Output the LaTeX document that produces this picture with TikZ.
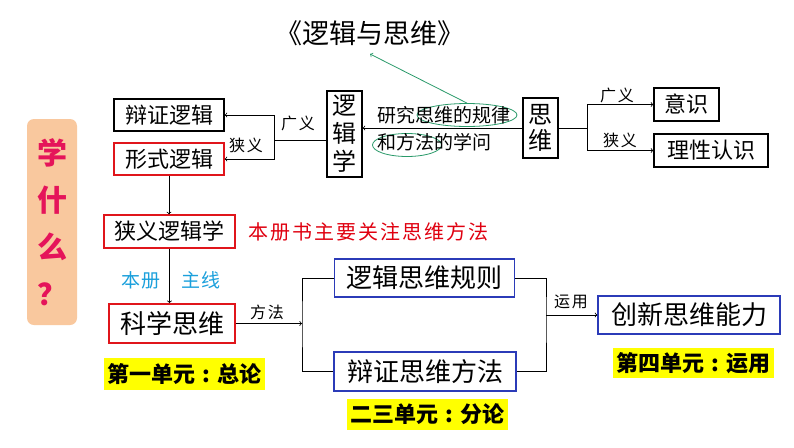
\documentclass[tikz,border=0pt]{standalone}
\usepackage{fontspec}
\setmainfont{Noto Sans CJK SC}
\newfontfamily\spaced{Noto Sans CJK SC}[LetterSpace=10]
\usetikzlibrary{shapes.geometric}

\definecolor{boxred}{HTML}{E0151B}
\definecolor{boxblue}{HTML}{2B3BB8}
\definecolor{notered}{HTML}{E00010}
\definecolor{linecyan}{HTML}{1BA0DC}
\definecolor{ovalgreen}{HTML}{2A9A6A}
\definecolor{peach}{HTML}{F9C89E}
\definecolor{askred}{HTML}{E5145A}
\definecolor{unityellow}{HTML}{FFFF00}

\newcommand{\unitcolon}{\makebox[1em]{:}}

\tikzset{
  box/.style={draw, line width=1.4pt, inner sep=0pt, font=\fontsize{22}{26}\selectfont},
  bigbox/.style={box, font=\fontsize{26}{30}\selectfont},
  lbl/.style={inner sep=0pt, font=\spaced\fontsize{16}{18}\selectfont},
  unit/.style={fill=unityellow, inner sep=0pt, font=\bfseries\fontsize{22}{26}\selectfont},
  oval/.style={draw=ovalgreen, ellipse, line width=0.8pt, inner sep=0pt},
}

\begin{document}
\begin{tikzpicture}[x=1pt, y=-1pt, line width=0.8pt]
  \useasboundingbox[fill=white] (0,0) rectangle (794,447);

  % title and the left tag
  \node[font=\fontsize{27}{30}\selectfont, inner sep=0pt] (title) at (370,33) {《逻辑与思维》};
  \node[fill=peach, rounded corners=7pt, minimum width=50pt, minimum height=206pt, inner sep=0pt,
        text=askred, align=center, font=\bfseries\fontsize{30}{47}\selectfont] (ask) at (52,222) {学\\什\\么\\？};

  % top row
  \node[box, minimum width=110pt, minimum height=32pt] (bianzheng) at (169,115) {辩证逻辑};
  \node[box, draw=boxred, minimum width=110pt, minimum height=32pt] (xingshi) at (169,159) {形式逻辑};
  \node[box, align=center, minimum width=35pt, minimum height=86pt,
        font=\fontsize{24}{28}\selectfont] (luojixue) at (344.5,134) {逻\\辑\\学};
  \node[box, align=center, minimum width=35pt, minimum height=60pt,
        font=\fontsize{24}{26}\selectfont] (siwei) at (540.5,128) {思\\维};
  \node[box, minimum width=65pt, minimum height=33pt] (yishi) at (686.5,104.5) {意识};
  \node[box, minimum width=114pt, minimum height=33pt] (lixing) at (711,150.5) {理性认识};

  % definition text with the two ovals
  \node[oval, minimum width=100pt, minimum height=23pt] (ovalA) at (467,115) {};
  \node[oval, minimum width=69pt, minimum height=23pt] (ovalB) at (407,145) {};
  \node[anchor=west, inner sep=0pt, align=left, font=\fontsize{19}{27}\selectfont] (define) at (377,129) {研究思维的规律\\和方法的学问};

  % lower part
  \node[box, draw=boxred, minimum width=131pt, minimum height=33pt] (xiayi) at (169.5,231.5) {狭义逻辑学};
  \node[bigbox, draw=boxred, line width=1.8pt, minimum width=126pt, minimum height=39pt] (kexue) at (172,323.5) {科学思维};
  \node[bigbox, draw=boxblue, minimum width=180pt, minimum height=38pt] (guize) at (424.5,278) {逻辑思维规则};
  \node[bigbox, draw=boxblue, minimum width=182pt, minimum height=39pt] (fangfa) at (425,371.5) {辩证思维方法};
  \node[bigbox, draw=boxblue, minimum width=182pt, minimum height=38pt] (chuangxin) at (689,315) {创新思维能力};

  \node[text=notered, inner sep=0pt, anchor=west, font=\spaced\fontsize{20}{24}\selectfont] (focus) at (248,232) {本册书主要关注思维方法};
  \node[lbl, text=linecyan, font=\spaced\fontsize{19}{22}\selectfont] (benc) at (141,280) {本册};
  \node[lbl, text=linecyan, font=\spaced\fontsize{19}{22}\selectfont] (zhux) at (201,280) {主线};

  \node[unit, minimum width=161pt, minimum height=32pt] (unitA) at (184.5,374) {第一单元\unitcolon 总论};
  \node[unit, minimum width=161pt, minimum height=31pt] (unitB) at (427,414.5) {二三单元\unitcolon 分论};
  \node[unit, minimum width=161pt, minimum height=30pt] (unitC) at (693,363) {第四单元\unitcolon 运用};

  % junctions
  \coordinate (jL) at (274,140);
  \coordinate (jR) at (587,128);
  \coordinate (jM) at (302,323.5);
  \coordinate (jN) at (546,315);

  % connectors
  \draw (luojixue.west |- jL) -- (jL);
  \draw[->] (jL) |- (bianzheng.east);
  \draw[->] (jL) |- (xingshi.east);
  \node[lbl] (guangL) at (298,123) {广义};
  \node[lbl] (xiaL) at (246,145) {狭义};

  \draw[->] (siwei.west) -- (luojixue.east |- siwei.west);
  \draw[->, draw=ovalgreen] (ovalA.north) -- ([yshift=-8pt]title.south);

  \draw (siwei.east) -- (jR);
  \draw[->] (jR) |- (yishi.west);
  \draw[->] (jR) |- (lixing.west);
  \node[lbl] (guangR) at (617,95) {广义};
  \node[lbl] (xiaR) at (620,140) {狭义};

  \draw[->] (xingshi.south) -- (xingshi.south |- xiayi.north);
  \draw[->] (xiayi.south) -- (xiayi.south |- kexue.north);

  \draw[->] (kexue.east) -- (jM);
  \draw (guize.west) -| (jM) |- (fangfa.west);
  \node[lbl] (fangf) at (267,312) {方法};

  \draw (guize.east) -| (jN) |- (fangfa.east);
  \draw[->] (jN) -- (chuangxin.west);
  \node[lbl] (yong) at (571,302) {运用};
\end{tikzpicture}
\end{document}
